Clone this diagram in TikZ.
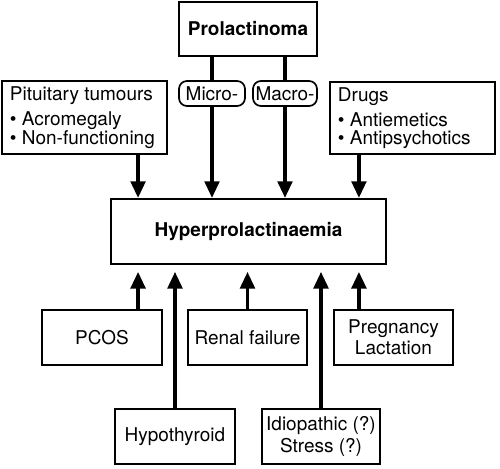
\documentclass[tikz,border=0pt]{standalone}
\usepackage{fontspec}
\setmainfont{TeX Gyre Heros}
\usepackage{tikz}
\usetikzlibrary{arrows.meta}

\begin{document}
\begin{tikzpicture}[x=0.025cm,y=-0.025cm,font={\fontsize{13.5}{13}\selectfont},
  box/.style={draw,line width=1.3pt,fill=white,align=center,inner sep=2pt},
  listbox/.style={box,align=flush left,text width=3.725cm,inner xsep=0.2cm},
  pill/.style={draw,line width=1.2pt,rounded corners=0.2cm,inner sep=1pt,
               minimum height=0.625cm},
  lnk/.style={line width=2.8pt},
  arr/.style={lnk,-{Triangle[length=0.42cm,width=0.36cm]}},
  feed/.style={arr,shorten >=0.17cm}]
\useasboundingbox (0,0) rectangle (500,468);
% --- the cause at the top and its two sizes ---
\node[box,minimum width=3.45cm,minimum height=1.35cm] (prolac) at (248,29) {\textbf{Prolactinoma}};
\node[pill,minimum width=1.65cm] (micro) at (212,93.5) {Micro-};
\node[pill,minimum width=1.6cm] (macro) at (285,93.5) {Macro-};
% --- the two listed groups ---
\node[listbox,minimum height=1.825cm] (pit) at (84.5,117.5)
  {Pituitary tumours\\[5pt] • Acromegaly\\ • Non-functioning};
\node[listbox,minimum height=1.8cm] (drugs) at (412.5,118)
  {Drugs\\[5pt] • Antiemetics\\ • Antipsychotics};
% --- the result ---
\node[box,minimum width=6.875cm,minimum height=1.625cm] (hyper) at (248.5,231.5)
  {\textbf{Hyperprolactinaemia}};
% --- the causes below ---
\node[box,minimum width=3cm,minimum height=1.375cm] (pcos) at (102,337.5) {PCOS};
\node[box,minimum width=2.975cm,minimum height=1.375cm] (renal) at (247.5,337.5) {Renal failure};
\node[box,minimum width=2.975cm,minimum height=1.375cm] (preg) at (393.5,337.5) {Pregnancy\\[2pt] Lactation};
\node[box,minimum width=3cm,minimum height=1.375cm] (hypo) at (175,436.5) {Hypothyroid};
\node[box,minimum width=2.95cm,minimum height=1.375cm] (idio) at (321,436.5) {Idiopathic (?)\\[1pt] Stress (?)};
% --- where the arrows meet the result ---
\coordinate (inTL) at ([xshift=0.7cm]hyper.north west);
\coordinate (inTR) at ([xshift=-0.7cm]hyper.north east);
\coordinate (inBL) at ([xshift=0.7cm]hyper.south west);
\coordinate (inBR) at ([xshift=-0.7cm]hyper.south east);
% --- arrows in from above ---
\draw[lnk] (prolac.south -| micro) -- (micro.north);
\draw[lnk] (prolac.south -| macro) -- (macro.north);
\draw[arr] (micro.south) -- (micro.south |- hyper.north);
\draw[arr] (macro.south) -- (macro.south |- hyper.north);
\draw[arr] (pit.south -| inTL) -- (inTL);
\draw[arr] (drugs.south -| inTR) -- (inTR);
% --- arrows in from below ---
\draw[feed] (pcos.north -| inBL) -- (inBL);
\draw[feed] (hypo.north) -- (hypo.north |- hyper.south);
\draw[feed] (renal.north) -- (renal.north |- hyper.south);
\draw[feed] (idio.north) -- (idio.north |- hyper.south);
\draw[feed] (preg.north -| inBR) -- (inBR);
\end{tikzpicture}
\end{document}
